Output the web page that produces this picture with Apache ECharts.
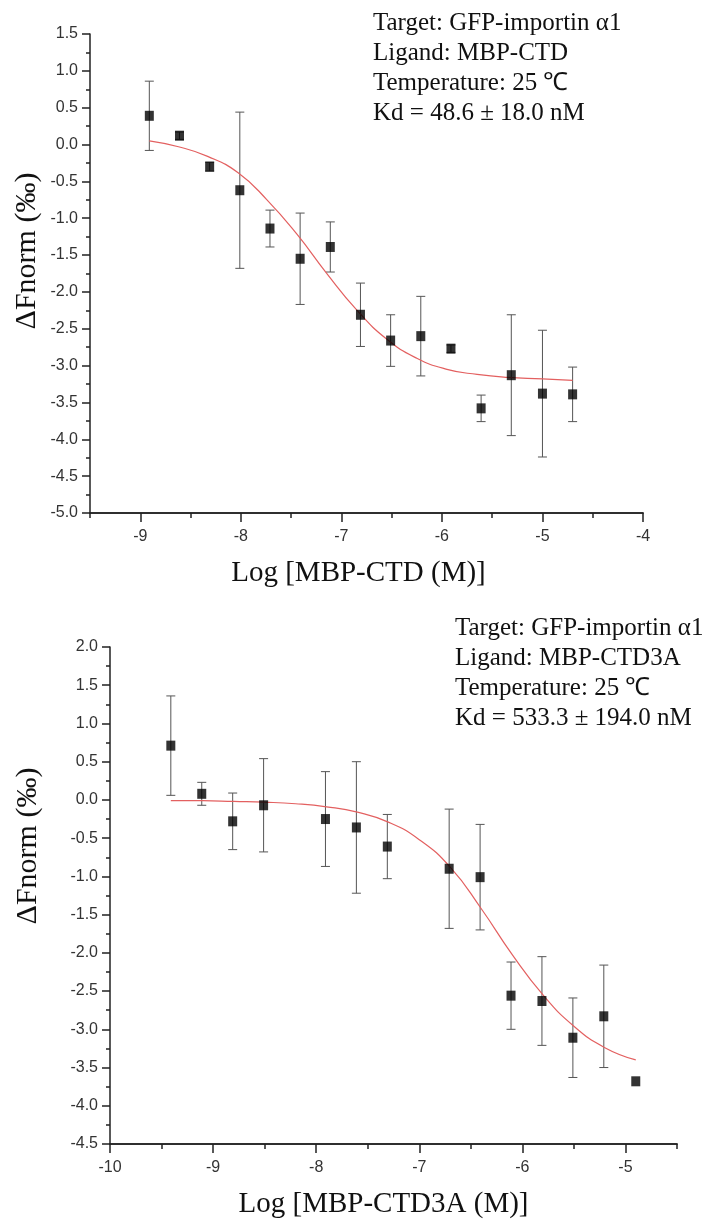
<!DOCTYPE html>
<html>
<head>
<meta charset="utf-8">
<script src="https://cdn.jsdelivr.net/npm/echarts@6/dist/echarts.min.js"></script>
<style>
    html, body { margin: 0; padding: 0; background: #fff; }
    #main { width: 716px; height: 1225px; }
</style>
</head>
<body>
<div id="main"></div>
<script>
    // top panel: MBP-CTD
    var xTop = [-8.91, -8.61, -8.31, -8.01, -7.71, -7.41, -7.11, -6.81, -6.51, -6.21, -5.91, -5.61, -5.31, -5.00, -4.70];
    var yTop = [0.39, 0.12, -0.30, -0.62, -1.14, -1.55, -1.39, -2.31, -2.66, -2.60, -2.77, -3.58, -3.13, -3.38, -3.39];
    var errTop = [0.47, 0.05, 0.06, 1.06, 0.25, 0.62, 0.34, 0.43, 0.35, 0.54, 0.05, 0.18, 0.82, 0.86, 0.37];
    var fitTopX = [-8.91, -8.62, -8.33, -8.03, -7.74, -7.44, -7.15, -6.85, -6.55, -6.25, -5.95, -5.65, -5.35, -5.00, -4.70];
    var fitTopY = [0.05, -0.03, -0.16, -0.38, -0.75, -1.22, -1.74, -2.24, -2.64, -2.90, -3.05, -3.12, -3.16, -3.18, -3.20];

    // bottom panel: MBP-CTD3A
    var xBot = [-9.41, -9.11, -8.81, -8.51, -7.91, -7.61, -7.31, -6.71, -6.41, -6.11, -5.81, -5.51, -5.21, -4.90];
    var yBot = [0.71, 0.08, -0.28, -0.07, -0.25, -0.36, -0.61, -0.90, -1.01, -2.56, -2.63, -3.11, -2.83, -3.68];
    var errBot = [0.65, 0.15, 0.37, 0.61, 0.62, 0.86, 0.42, 0.78, 0.69, 0.44, 0.58, 0.52, 0.67, 0];
    var fitBotX = [-9.41, -9.10, -8.80, -8.50, -8.20, -7.90, -7.60, -7.30, -7.00, -6.70, -6.40, -6.10, -5.80, -5.50, -5.20, -4.90];
    var fitBotY = [-0.01, -0.01, -0.02, -0.03, -0.05, -0.09, -0.16, -0.29, -0.52, -0.88, -1.42, -2.02, -2.55, -2.96, -3.24, -3.40];

    var topTicks = [-9, -8, -7, -6, -5, -4];
    var botTicks = [-10, -9, -8, -7, -6, -5];

    var topNotes = ['Target: GFP-importin α1', 'Ligand: MBP-CTD', 'Temperature: 25 ℃', 'Kd = 48.6 ± 18.0 nM'];
    var botNotes = ['Target: GFP-importin α1', 'Ligand: MBP-CTD3A', 'Temperature: 25 ℃', 'Kd = 533.3 ± 194.0 nM'];

    var myChart = echarts.init(document.getElementById('main'));

    function pairs(xs, ys) {
        return xs.map(function (x, i) { return [x, ys[i]]; });
    }
    function errRows(xs, ys, es) {
        return xs.map(function (x, i) { return [x, ys[i] - es[i], ys[i] + es[i]]; });
    }
    function renderErr(params, api) {
        var lo = api.value(1), hi = api.value(2);
        if (hi - lo < 0.001) return null;
        var p1 = api.coord([api.value(0), hi]);
        var p2 = api.coord([api.value(0), lo]);
        var w = 4.5;
        var st = { stroke: '#555', lineWidth: 1 };
        return {
            type: 'group',
            children: [
                { type: 'line', shape: { x1: p1[0], y1: p1[1], x2: p2[0], y2: p2[1] }, style: st },
                { type: 'line', shape: { x1: p1[0] - w, y1: p1[1], x2: p1[0] + w, y2: p1[1] }, style: st },
                { type: 'line', shape: { x1: p2[0] - w, y1: p2[1], x2: p2[0] + w, y2: p2[1] }, style: st }
            ]
        };
    }

    var axisLine = { show: true, onZero: false, lineStyle: { color: '#222', width: 1.5 } };
    var labelStyle = { fontFamily: 'Liberation Sans', fontSize: 16, color: '#333' };

    function minorX(grid, min, max) {
        return {
            type: 'value', gridIndex: grid, position: 'bottom', min: min, max: max, interval: 0.5,
            axisLine: axisLine, splitLine: { show: false },
            axisTick: { show: true, length: 5, lineStyle: { color: '#222', width: 1.5 } },
            axisLabel: { show: false }
        };
    }
    function majorX(grid, min, max, ticks, name, pad) {
        return {
            type: 'value', gridIndex: grid, position: 'bottom', min: min, max: max, interval: 0.5,
            axisLine: axisLine, splitLine: { show: false },
            axisTick: { show: true, length: 9, customValues: ticks, lineStyle: { color: '#222', width: 1.5 } },
            axisLabel: Object.assign({ customValues: ticks, margin: 16, formatter: function (v) { return String(v); } }, labelStyle),
            name: name, nameLocation: 'middle', nameGap: 46,
            nameTextStyle: { fontFamily: 'Liberation Serif', fontSize: 29, color: '#111', padding: pad }
        };
    }
    function yAx(grid, min, max) {
        return {
            type: 'value', gridIndex: grid, min: min, max: max, interval: 0.5,
            axisLine: axisLine, splitLine: { show: false },
            axisTick: { show: true, length: 8, lineStyle: { color: '#222', width: 1.5 } },
            minorTick: { show: true, splitNumber: 2, length: 4, lineStyle: { color: '#222', width: 1.5 } },
            minorSplitLine: { show: false },
            axisLabel: Object.assign({ margin: 12, formatter: function (v) { return v.toFixed(1); } }, labelStyle)
        };
    }

    function notes(lines, left, top) {
        return lines.map(function (t, i) {
            return {
                type: 'text', left: left, top: top + i * 30,
                style: { text: t, font: '25px "Liberation Serif"', fill: '#111' }
            };
        });
    }

    function fitLine(xi, yi, xs, ys) {
        return {
            type: 'line', xAxisIndex: xi, yAxisIndex: yi, data: pairs(xs, ys), smooth: 0.5,
            showSymbol: false, symbol: 'none', lineStyle: { color: '#e36060', width: 1.2 }, z: 3
        };
    }

    var option = {
        animation: false,
        backgroundColor: '#fff',
        grid: [
            { left: 90, top: 34, width: 553, height: 479 },
            { left: 110, top: 647, width: 567, height: 497 }
        ],
        xAxis: [
            minorX(0, -9.5, -4),
            majorX(0, -9.5, -4, topTicks, 'Log [MBP-CTD (M)]', [0, 16, 0, 0]),
            minorX(1, -10, -4.5),
            majorX(1, -10, -4.5, botTicks, 'Log [MBP-CTD3A (M)]', [0, 20, 0, 0])
        ],
        yAxis: [yAx(0, -5, 1.5), yAx(1, -4.5, 2)],
        graphic: [
            {
                type: 'text', x: 27, y: 251, rotation: Math.PI / 2,
                style: { text: 'ΔFnorm (‰)', font: '30px "Liberation Serif"', fill: '#111', align: 'center', verticalAlign: 'middle' }
            },
            {
                type: 'text', x: 28, y: 846, rotation: Math.PI / 2,
                style: { text: 'ΔFnorm (‰)', font: '30px "Liberation Serif"', fill: '#111', align: 'center', verticalAlign: 'middle' }
            }
        ].concat(notes(topNotes, 373, 11), notes(botNotes, 455, 616)),
        series: [
            {
                type: 'custom', xAxisIndex: 0, yAxisIndex: 0, renderItem: renderErr,
                encode: { x: 0, y: [1, 2] }, data: errRows(xTop, yTop, errTop), z: 2
            },
            fitLine(0, 0, fitTopX, fitTopY),
            {
                type: 'scatter', xAxisIndex: 0, yAxisIndex: 0, data: pairs(xTop, yTop), symbol: 'rect',
                symbolSize: [9, 10], itemStyle: { color: '#000' }, z: 4
            },
            {
                type: 'custom', xAxisIndex: 2, yAxisIndex: 1, renderItem: renderErr,
                encode: { x: 0, y: [1, 2] }, data: errRows(xBot, yBot, errBot), z: 2
            },
            fitLine(2, 1, fitBotX, fitBotY),
            {
                type: 'scatter', xAxisIndex: 2, yAxisIndex: 1, data: pairs(xBot, yBot), symbol: 'rect',
                symbolSize: [9, 10], itemStyle: { color: '#000' }, z: 4
            }
        ]
    };
    option && myChart.setOption(option);
</script>
</body>
</html>
